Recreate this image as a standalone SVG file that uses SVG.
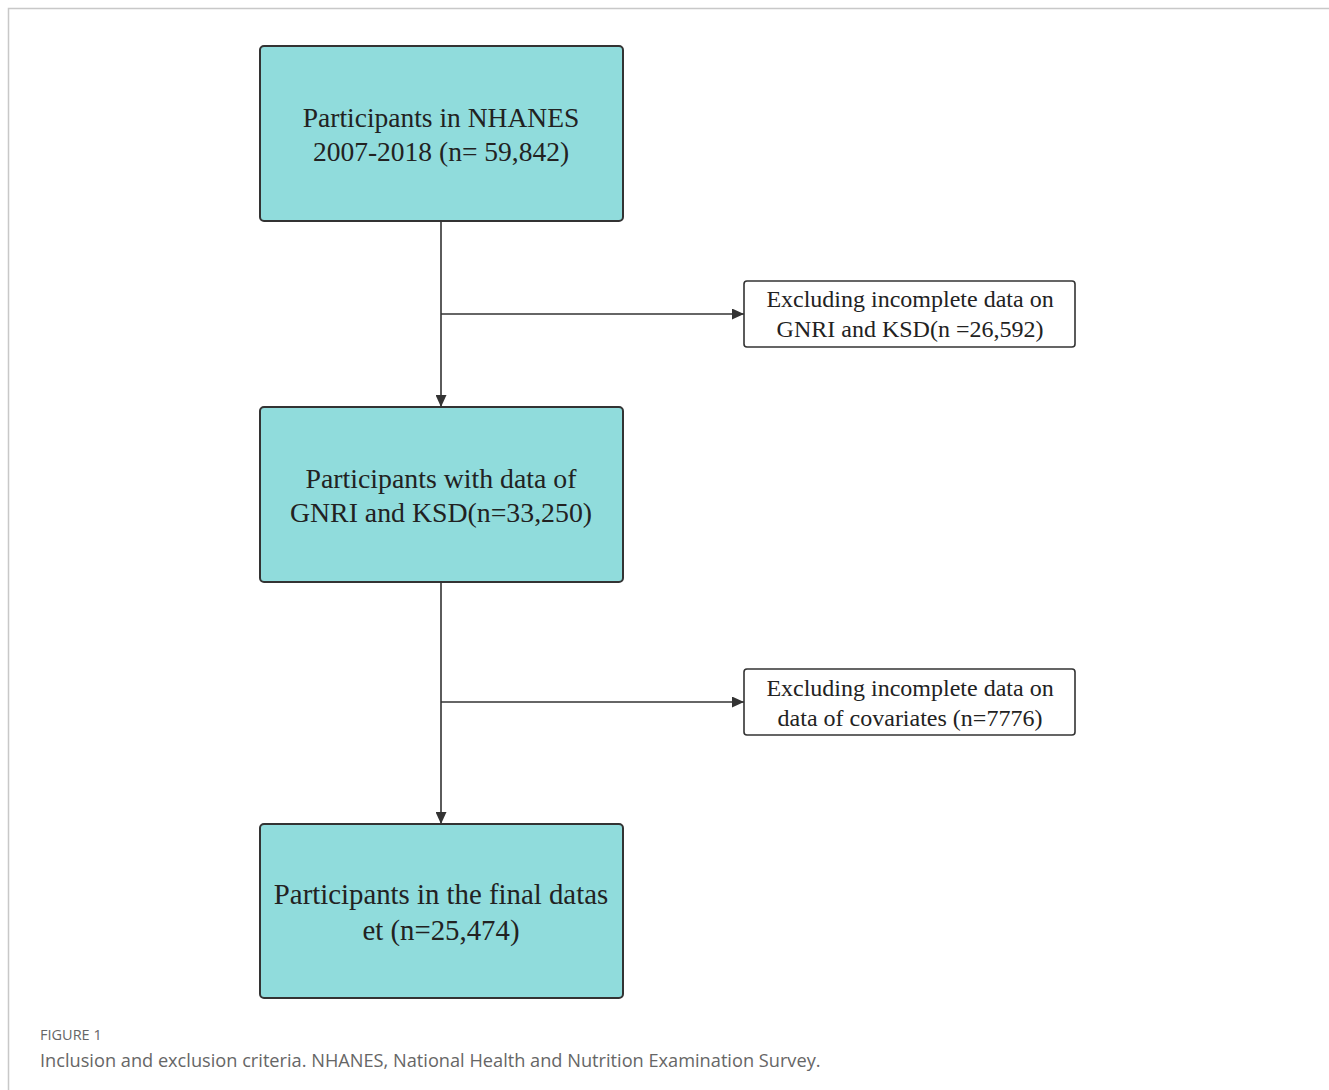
<svg xmlns="http://www.w3.org/2000/svg" width="1329" height="1090" viewBox="0 0 1329 1090">
<style>
.main{fill:#90dcdc;stroke:#333;stroke-width:2}
.side{fill:#fff;stroke:#333;stroke-width:1.6}
.t{font-family:"Liberation Serif",serif;fill:#222;text-anchor:middle}
.c{stroke:#333;stroke-width:1.6;fill:none}
.cap{font-family:"Open Sans",sans-serif;fill:#666}
</style>
<defs>
<marker id="ah" viewBox="0 0 10 10" refX="10" refY="5" markerWidth="12" markerHeight="11" markerUnits="userSpaceOnUse" orient="auto" preserveAspectRatio="none">
<path d="M0,0 L10,5 L0,10 Z" fill="#333"/>
</marker>
</defs>
<rect width="1329" height="1090" fill="#fff"/>
<path d="M8.5,1090 V8.5 H1329" fill="none" stroke="#c8c8c8" stroke-width="1.5"/>
<g id="connectors">
<line class="c" x1="441" y1="222" x2="441" y2="407" marker-end="url(#ah)"/>
<line class="c" x1="441" y1="314" x2="744" y2="314" marker-end="url(#ah)"/>
<line class="c" x1="441" y1="583" x2="441" y2="824" marker-end="url(#ah)"/>
<line class="c" x1="441" y1="702" x2="744" y2="702" marker-end="url(#ah)"/>
</g>
<g id="n1">
<rect class="main" x="260" y="46" width="363" height="175" rx="4"/>
<text class="t" font-size="27.5" x="441" y="127">Participants in NHANES</text>
<text class="t" font-size="27.5" x="441" y="161">2007-2018 (n= 59,842)</text>
</g>
<g id="n2">
<rect class="side" x="744" y="281" width="331" height="66" rx="3"/>
<text class="t" font-size="24" x="910" y="307">Excluding incomplete data on</text>
<text class="t" font-size="24" x="910" y="337">GNRI and KSD(n =26,592)</text>
</g>
<g id="n3">
<rect class="main" x="260" y="407" width="363" height="175" rx="4"/>
<text class="t" font-size="27.8" x="441" y="488">Participants with data of</text>
<text class="t" font-size="27.8" x="441" y="522">GNRI and KSD(n=33,250)</text>
</g>
<g id="n4">
<rect class="side" x="744" y="669" width="331" height="66" rx="3"/>
<text class="t" font-size="24" x="910" y="696">Excluding incomplete data on</text>
<text class="t" font-size="24" x="910" y="726">data of covariates (n=7776)</text>
</g>
<g id="n5">
<rect class="main" x="260" y="824" width="363" height="174" rx="4"/>
<text class="t" font-size="28.8" x="441" y="904">Participants in the final datas</text>
<text class="t" font-size="28.8" x="441" y="940">et (n=25,474)</text>
</g>
<text class="cap" font-size="14.5" x="40" y="1040">FIGURE 1</text>
<text class="cap" font-size="18.2" x="40" y="1067">Inclusion and exclusion criteria. NHANES, National Health and Nutrition Examination Survey.</text>
</svg>
